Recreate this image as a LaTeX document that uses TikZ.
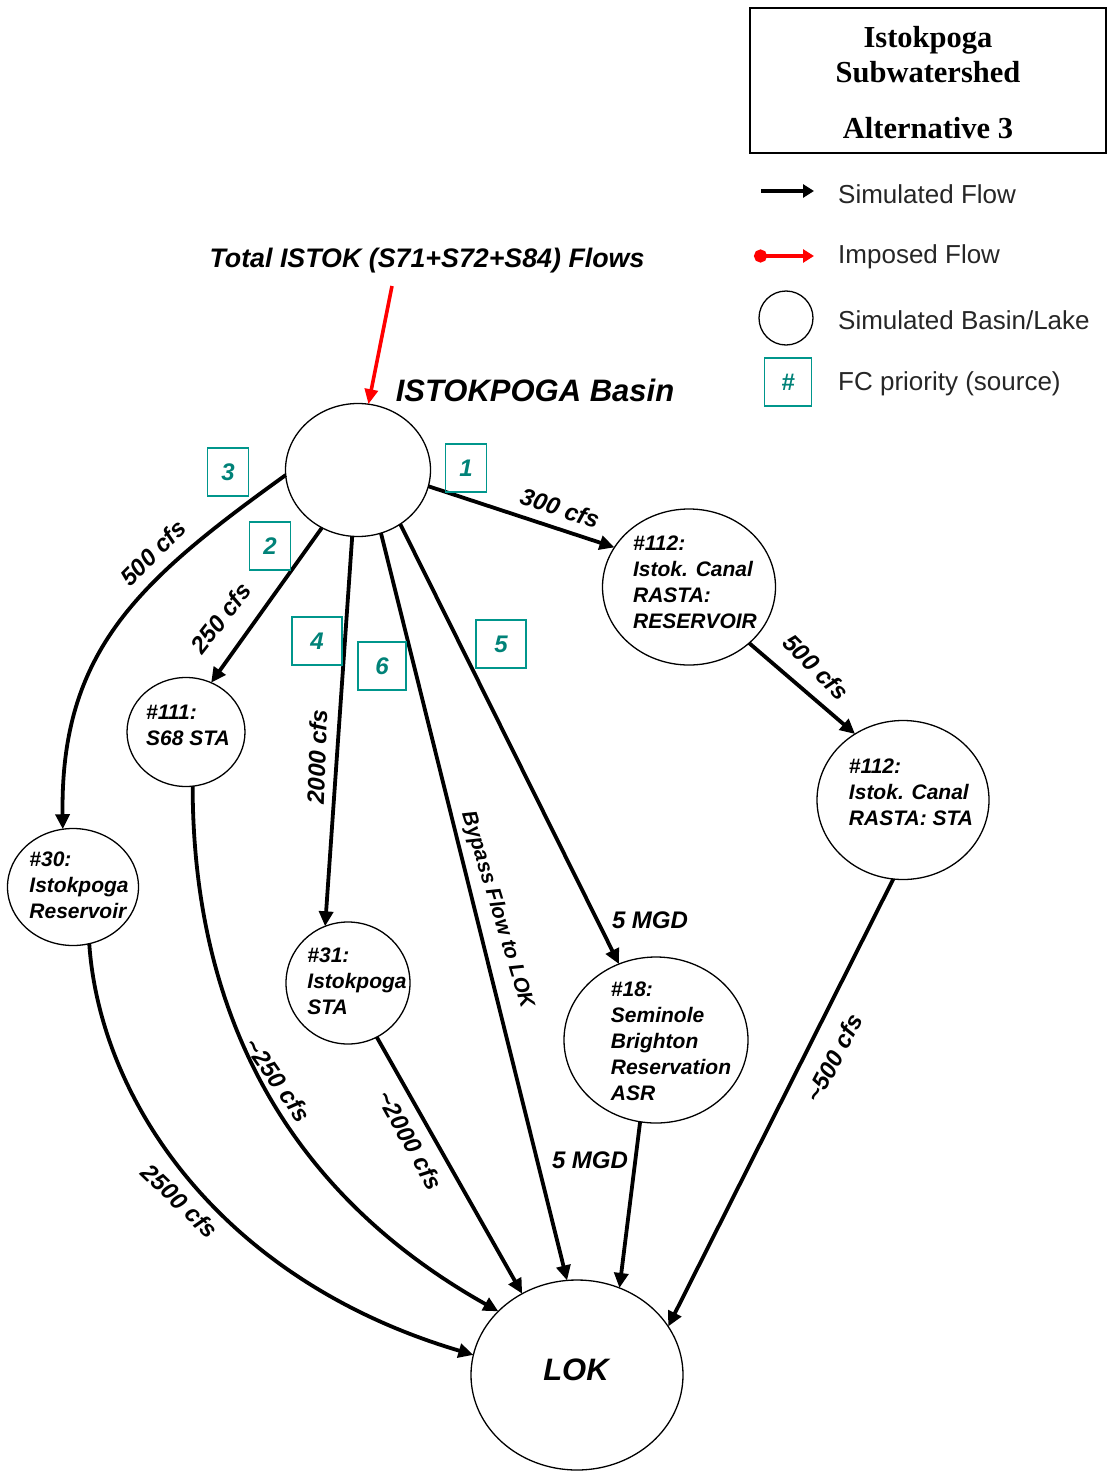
\documentclass[tikz,border=0pt]{standalone}
\usepackage{fontspec}
\setmainfont{Liberation Sans}
\newfontfamily\titlefont{Liberation Serif}
\usetikzlibrary{arrows.meta,shapes.geometric}
\definecolor{tealc}{RGB}{0,150,140}
\definecolor{tealtxt}{RGB}{0,130,120}
\begin{document}
\begin{tikzpicture}[x=1pt,y=-1pt,
 basin/.style={ellipse,draw,line width=1.3pt,inner sep=0pt,outer sep=0pt},
 ntext/.style={align=left,inner sep=0pt,font=\fontsize{21}{26}\selectfont\bfseries\itshape},
 flow/.style={line width=3.8pt,-{Triangle[length=15pt,width=14pt]}},
 lbl/.style={font=\fontsize{24}{28}\selectfont\bfseries\itshape,inner sep=1pt},
 prio/.style={draw=tealc,line width=1.3pt,minimum width=41pt,minimum height=48pt,inner sep=0pt,text=tealtxt,font=\fontsize{24}{28}\selectfont\bfseries\itshape},
 legtext/.style={anchor=west,inner sep=0pt,font=\fontsize{26}{30}\selectfont,text=black!85}]
\useasboundingbox (0,0) rectangle (1107,1472);
\fill[white] (0,0) rectangle (1107,1472);

% title box
\node[draw,line width=1.3pt,minimum width=356pt,minimum height=145pt,inner sep=0pt] (tbox) at (928,80.5) {};
\node[align=center,inner sep=0pt,font=\titlefont\fontsize{30.5}{35}\selectfont\bfseries] (ttext) at (928,83) {Istokpoga\\Subwatershed\\[21pt]Alternative 3};

% legend
\coordinate (la1) at (761,191);
\coordinate (la2) at (814,191);
\draw[line width=4.5pt,-{Triangle[length=11pt,width=13pt]}] (la1) -- (la2);
\node[legtext] (lta) at (838,194) {Simulated Flow};
\coordinate (lb1) at (754,256);
\coordinate (lb2) at (814,256);
\draw[red,line width=4pt,{Circle[length=13pt]}-{Triangle[length=11pt,width=13pt]}] (lb1) -- (lb2);
\node[legtext] (ltb) at (838,257) {Imposed Flow};
\node[basin,minimum width=54pt,minimum height=54pt] (lc) at (786,318) {};
\node[legtext] (ltc) at (838,320) {Simulated Basin/Lake};
\node[prio,minimum width=47pt] (ld) at (788,382) {\#};
\node[legtext] (ltd) at (838,384) {FC priority (source)};

% headings
\node[font=\fontsize{26.8}{30}\selectfont\bfseries\itshape,inner sep=0pt] (total) at (427,261) {Total ISTOK (S71+S72+S84) Flows};
\node[font=\fontsize{31}{36}\selectfont\bfseries\itshape,inner sep=0pt] (bname) at (535,390) {ISTOKPOGA Basin};

% nodes
\node[basin,minimum width=145pt,minimum height=133pt] (basin) at (358,470) {};
\node[basin,minimum width=173pt,minimum height=156pt] (r112) at (689,587) {};
\node[ntext] (r112t) at (695,582) {\#112:\\Istok. Canal\\RASTA:\\RESERVOIR};
\node[basin,minimum width=172pt,minimum height=159pt] (s112) at (903,800) {};
\node[ntext] (s112t) at (911,792) {\#112:\\Istok. Canal\\RASTA: STA};
\node[basin,minimum width=118pt,minimum height=109pt] (n111) at (186,732) {};
\node[ntext] (n111t) at (188,725) {\#111:\\S68 STA};
\node[basin,minimum width=131pt,minimum height=117pt] (n30) at (73,887) {};
\node[ntext] (n30t) at (79,885) {\#30:\\Istokpoga\\Reservoir};
\node[basin,minimum width=124pt,minimum height=122pt] (n31) at (348,983) {};
\node[ntext] (n31t) at (357,981) {\#31:\\Istokpoga\\STA};
\node[basin,minimum width=184pt,minimum height=166pt] (n18) at (656,1040) {};
\node[ntext] (n18t) at (671,1041) {\#18:\\Seminole\\Brighton\\Reservation\\ASR};
\node[basin,minimum width=212pt,minimum height=190pt] (lok) at (577,1375) {};
\node[font=\fontsize{31}{36}\selectfont\bfseries\itshape,inner sep=0pt] (lokt) at (576,1370) {LOK};

% imposed inflow
\coordinate (inflow) at (392,286);
\draw[red,line width=3.6pt,-{Triangle[length=15pt,width=13pt]}] (inflow) -- (basin.81);

% flows
\draw[flow] (basin.-13) -- (r112.152);
\draw[flow] (r112.-43) -- (s112.126);
\draw[flow] (s112.-97) -- (lok.28);
\draw[flow] (basin.184) .. controls (140,580) and (60,650) .. (n30.100);
\draw[flow] (basin.238) -- (n111.63);
\draw[flow] (basin.265) -- (n31.112);
\draw[flow] (basin.290) -- (lok.96);
\draw[flow] (basin.308) -- (n18.116);
\draw[flow] (n18.259) -- (lok.64);
\draw[flow] (n31.298) -- (lok.124);
\draw[flow] (n111.277) .. controls (193,1030) and (300,1200) .. (lok.141);
\draw[flow] (n30.286) .. controls (100,1100) and (220,1280) .. (lok.169);

% flow labels
\node[lbl,rotate=-18] (l300) at (560,508) {300 cfs};
\node[lbl,rotate=-45] (l500b) at (816,667) {500 cfs};
\node[lbl,rotate=62] (l500c) at (834,1058) {\textasciitilde500 cfs};
\node[lbl,rotate=45] (l500a) at (153,553) {500 cfs};
\node[lbl,rotate=52] (l250) at (221,618) {250 cfs};
\node[lbl,rotate=88] (l2000) at (317,757) {2000 cfs};
\node[lbl,rotate=-73,font=\fontsize{21}{24}\selectfont\bfseries\itshape] (lbyp) at (497,910) {Bypass Flow to LOK};
\node[lbl] (l5a) at (650,920) {5 MGD};
\node[lbl] (l5b) at (590,1160) {5 MGD};
\node[lbl,rotate=-61] (l2000b) at (410,1140) {\textasciitilde2000 cfs};
\node[lbl,rotate=-55] (l250b) at (278,1080) {\textasciitilde250 cfs};
\node[lbl,rotate=-44] (l2500) at (180,1201) {2500 cfs};

% priorities
\node[prio] (p3) at (228,472) {3};
\node[prio] (p1) at (466,468) {1};
\node[prio] (p2) at (270,546) {2};
\node[prio,minimum width=50pt] (p4) at (317,641) {4};
\node[prio,minimum width=48pt] (p6) at (382,666) {6};
\node[prio,minimum width=50pt] (p5) at (501,644) {5};
\end{tikzpicture}
\end{document}
